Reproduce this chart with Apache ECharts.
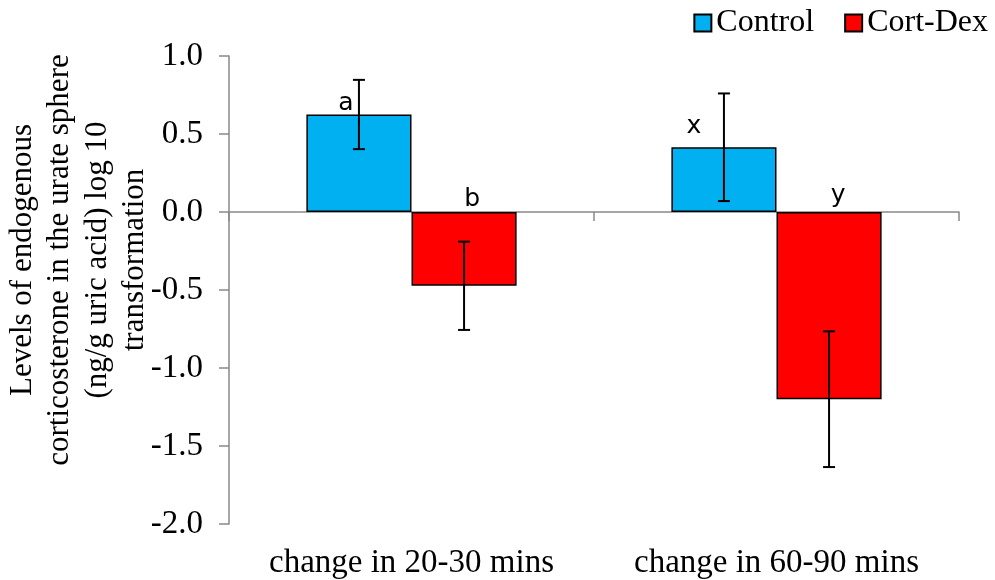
<!DOCTYPE html>
<html>
<head>
<meta charset="utf-8">
<script src="https://cdn.jsdelivr.net/npm/echarts@6/dist/echarts.min.js"></script>
<style>html,body{margin:0;padding:0;background:#fff}#c{width:995px;height:580px}</style>
</head>
<body>
<div id="c"></div>
<script>
const categories = ['change in 20-30 mins', 'change in 60-90 mins'];
const controlValues = [0.625, 0.415];
const controlErrors = [0.222, 0.345];
const cortValues = [-0.473, -1.200];
const cortErrors = [0.283, 0.435];
const controlLetters = ['a', 'x'];
const cortLetters = ['b', 'y'];
const seriesNames = ['Control', 'Cort-Dex'];
const yTicks = { min: -2.0, max: 1.0, interval: 0.5 };
const yTitleLines = ['Levels of endogenous', 'corticosterone in the urate sphere', '(ng/g uric acid) log 10', 'transformation'];

const SERIF = '"Times New Roman", "Liberation Serif", serif';
const SANS = '"DejaVu Sans", Verdana, sans-serif';
const BAR_FRAC = 0.288;

const chart = echarts.init(document.getElementById('c'), null, { renderer: 'canvas' });

function errorSeries(values, errors, side, name) {
  return {
    type: 'custom',
    name: name + ' err',
    xAxisIndex: 0,
    yAxisIndex: 0,
    z: 10,
    silent: true,
    data: values.map((v, i) => [i, v - errors[i], v + errors[i]]),
    renderItem: function (params, api) {
      const band = api.size([1, 0])[0];
      const off = side * band * BAR_FRAC / 2;
      const lo = api.coord([api.value(0), api.value(1)]);
      const hi = api.coord([api.value(0), api.value(2)]);
      const x = lo[0] + off;
      const cap = 6;
      const style = { stroke: '#000', lineWidth: 2 };
      return {
        type: 'group',
        children: [
          { type: 'line', shape: { x1: x, y1: lo[1], x2: x, y2: hi[1] }, style },
          { type: 'line', shape: { x1: x - cap, y1: lo[1], x2: x + cap, y2: lo[1] }, style },
          { type: 'line', shape: { x1: x - cap, y1: hi[1], x2: x + cap, y2: hi[1] }, style }
        ]
      };
    }
  };
}

const letterOffsets = { a: [-13, 1], b: [8, 0], x: [-30, -8], y: [9, -4] };

function letterLabel(letters) {
  return {
    show: true,
    position: 'top',
    distance: 0,
    formatter: p => letters[p.dataIndex],
    fontFamily: SANS,
    fontSize: 25,
    color: '#000'
  };
}

const titleX = [23, 60, 98, 135];
const titleGraphics = yTitleLines.map((line, i) => ({
  type: 'text',
  x: titleX[i],
  y: 260,
  rotation: Math.PI / 2,
  style: {
    text: line,
    fontFamily: SERIF,
    fontSize: 31,
    fill: '#000',
    align: 'center',
    verticalAlign: 'middle'
  }
}));

const option = {
  animation: false,
  backgroundColor: '#fff',
  grid: { left: 229, right: 36, top: 56, bottom: 55, containLabel: false },
  legend: {
    data: seriesNames,
    right: 2,
    top: 2,
    itemWidth: 17,
    itemHeight: 17,
    itemGap: 30,
    icon: 'rect',
    textStyle: { fontFamily: SERIF, fontSize: 32, color: '#000' }
  },
  xAxis: [
    {
      type: 'category',
      data: categories,
      axisLine: { onZero: true, lineStyle: { color: '#898989', width: 1.5 } },
      axisTick: { show: true, length: 9, alignWithLabel: false, lineStyle: { color: '#898989', width: 1.5 } },
      axisLabel: { show: false },
      splitLine: { show: false }
    },
    {
      type: 'category',
      data: categories,
      position: 'bottom',
      axisLine: { show: false, onZero: false },
      axisTick: { show: false },
      axisLabel: { show: true, interval: 0, fontFamily: SERIF, fontSize: 33, color: '#000', margin: 23 },
      splitLine: { show: false }
    }
  ],
  yAxis: {
    type: 'value',
    min: yTicks.min,
    max: yTicks.max,
    interval: yTicks.interval,
    axisLine: { show: true, lineStyle: { color: '#898989', width: 1.5 } },
    axisTick: { show: true, length: 10, lineStyle: { color: '#898989', width: 1.5 } },
    axisLabel: { fontFamily: SERIF, fontSize: 33, color: '#000', margin: 26, formatter: v => v.toFixed(1) },
    splitLine: { show: false }
  },
  graphic: titleGraphics,
  series: [
    {
      name: seriesNames[0],
      type: 'bar',
      xAxisIndex: 0,
      data: controlValues.map((v, i) => ({
        value: v,
        label: Object.assign(letterLabel(controlLetters), { offset: letterOffsets[controlLetters[i]] })
      })),
      barWidth: (BAR_FRAC * 100) + '%',
      barGap: '0%',
      itemStyle: { color: '#00B0F0', borderColor: '#000', borderWidth: 1.5 }
    },
    {
      name: seriesNames[1],
      type: 'bar',
      xAxisIndex: 0,
      data: cortValues.map((v, i) => ({
        value: v,
        label: Object.assign(letterLabel(cortLetters), { offset: letterOffsets[cortLetters[i]] })
      })),
      barWidth: (BAR_FRAC * 100) + '%',
      barGap: '0%',
      itemStyle: { color: '#FF0000', borderColor: '#000', borderWidth: 1.5 }
    },
    errorSeries(controlValues, controlErrors, -1, seriesNames[0]),
    errorSeries(cortValues, cortErrors, 1, seriesNames[1])
  ]
};
chart.setOption(option);
</script>
</body>
</html>
